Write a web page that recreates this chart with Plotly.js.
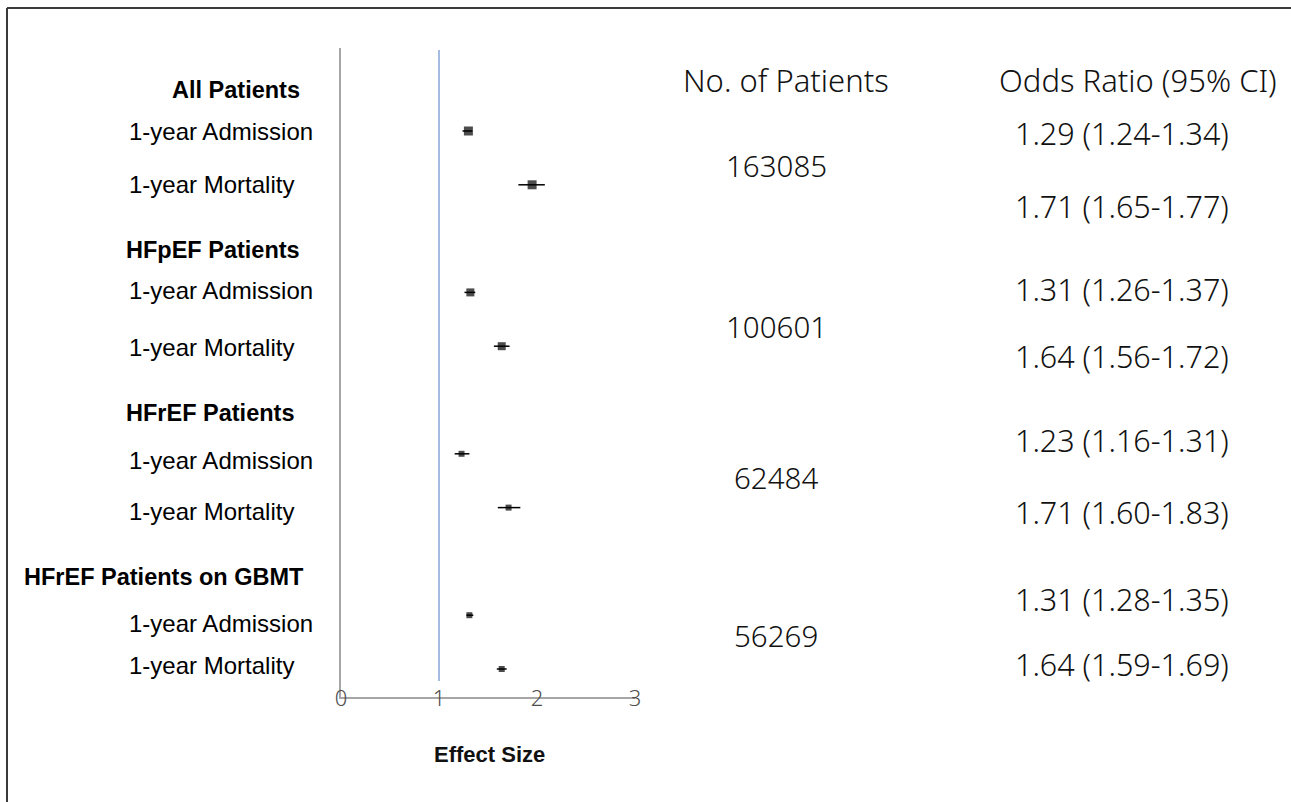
<!DOCTYPE html>
<html>
<head>
<meta charset="utf-8">
<script src="https://cdn.plot.ly/plotly-3.0.1.min.js"></script>
<style>html,body{margin:0;padding:0;background:#fff;}#chart{width:1291px;height:802px;}</style>
</head>
<body>
<div id="chart"></div>
<script>
// ---------------- data ----------------
const groups = ['All Patients', 'HFpEF Patients', 'HFrEF Patients', 'HFrEF Patients on GBMT'];
const outcomes = ['1-year Admission', '1-year Mortality'];
const nPatients = [163085, 100601, 62484, 56269];
// odds ratios as printed in the table column
const orEst  = [1.29, 1.71, 1.31, 1.64, 1.23, 1.71, 1.31, 1.64];
const orLow  = [1.24, 1.65, 1.26, 1.56, 1.16, 1.60, 1.28, 1.59];
const orHigh = [1.34, 1.77, 1.37, 1.72, 1.31, 1.83, 1.35, 1.69];
// marker positions as drawn in the forest plot
const plotEst  = [1.30, 1.95, 1.32, 1.64, 1.23, 1.71, 1.31, 1.64];
const plotLow  = [1.24, 1.81, 1.26, 1.56, 1.16, 1.60, 1.28, 1.59];
const plotHigh = [1.34, 2.08, 1.37, 1.72, 1.31, 1.83, 1.35, 1.69];
const xTicks = [0, 1, 2, 3];
const colHeaders = ['No. of Patients', 'Odds Ratio (95% CI)'];
const xTitle = 'Effect Size';

// ---------------- layout helpers ----------------
const W = 1291, H = 802;
const PL = 341, PR = 635, PT = 48, PB = 697;
const px = p => (p - PL) / (PR - PL);
const py = p => (PB - p) / (PB - PT);

// row index on the y axis: each group has a header row then its outcomes
const rowY = [];
groups.forEach((g, gi) => outcomes.forEach((o, oi) => rowY.push(gi * 3 + oi)));
const yTop = (PT - 131) / 53.8, yBot = (PB - 131) / 53.8;

const markerSizes = [9, 9, 8, 8, 6, 6, 6, 6];

const trace = {
  type: 'scatter',
  mode: 'markers',
  x: plotEst,
  y: rowY,
  marker: {symbol: 'square', color: '#000', size: markerSizes, line: {width: 0}},
  error_x: {
    type: 'data', symmetric: false,
    array: plotEst.map((v, i) => plotHigh[i] - v),
    arrayminus: plotEst.map((v, i) => v - plotLow[i]),
    color: '#000', thickness: 1.5, width: 0
  },
  hoverinfo: 'x',
  showlegend: false,
  cliponaxis: false
};

const labelFont = 'Liberation Sans, Arial, sans-serif';
const numFont = '"Noto Sans", "Noto Sans CJK JP", sans-serif';

const annotations = [];
// group headers (right edge px, centre y px)
const headerPos = [[302, 90], [302, 250], [296, 413], [306, 577]];
groups.forEach((g, gi) => annotations.push({
  xref: 'paper', yref: 'paper', x: px(headerPos[gi][0]), y: py(headerPos[gi][1]),
  xanchor: 'right', yanchor: 'middle', showarrow: false, text: '<b>' + g + '</b>',
  font: {family: labelFont, size: 23.5, color: '#000'}
}));
// outcome labels
const outcomeYPx = [131, 185, 290, 347, 460, 512, 623, 665];
rowY.forEach((r, i) => annotations.push({
  xref: 'paper', yref: 'paper', x: px(127), y: py(outcomeYPx[i]),
  xanchor: 'left', yanchor: 'middle', showarrow: false,
  text: outcomes[i % outcomes.length],
  font: {family: labelFont, size: 24, color: '#000'}
}));
const headFont = {family: numFont, size: 31, color: '#111', weight: 300};
const countFont = {family: numFont, size: 29.5, color: '#111', weight: 300};
const orFont = {family: numFont, size: 30.5, color: '#111', weight: 300};
// column headers
annotations.push({xref: 'paper', yref: 'paper', x: px(786), y: py(80), xanchor: 'center', yanchor: 'middle',
  showarrow: false, text: colHeaders[0], font: headFont});
annotations.push({xref: 'paper', yref: 'paper', x: px(1138), y: py(80), xanchor: 'center', yanchor: 'middle',
  showarrow: false, text: colHeaders[1], font: headFont});
// patient counts
const nYPx = [166, 326, 477, 635];
nPatients.forEach((n, gi) => annotations.push({
  xref: 'paper', yref: 'paper', x: px(776), y: py(nYPx[gi]), xanchor: 'center', yanchor: 'middle',
  showarrow: false, text: String(n), font: countFont
}));
// odds ratio text
const orYPx = [133, 206, 289, 356, 440, 512, 599, 664];
orEst.forEach((v, i) => annotations.push({
  xref: 'paper', yref: 'paper', x: px(1122), y: py(orYPx[i]), xanchor: 'center', yanchor: 'middle',
  showarrow: false,
  text: v.toFixed(2) + ' (' + orLow[i].toFixed(2) + '-' + orHigh[i].toFixed(2) + ')',
  font: orFont
}));
// x axis title
annotations.push({xref: 'paper', yref: 'paper', x: px(489), y: py(755), xanchor: 'center', yanchor: 'middle',
  showarrow: false, text: '<b>' + xTitle + '</b>', font: {family: labelFont, size: 22, color: '#111'}});

const shapes = [
  // reference line at OR = 1
  {type: 'line', xref: 'x', yref: 'paper', x0: 1, x1: 1, y0: py(681), y1: py(50),
   line: {color: '#8eaadb', width: 1.6}},
  // outer frame (top & left visible)
  {type: 'line', xref: 'paper', yref: 'paper', x0: px(7), x1: px(1292), y0: py(8), y1: py(8),
   line: {color: '#3a3a3a', width: 2}},
  {type: 'line', xref: 'paper', yref: 'paper', x0: px(7), x1: px(7), y0: py(8), y1: py(803),
   line: {color: '#3a3a3a', width: 2}}
];

const layout = {
  width: W, height: H,
  margin: {l: PL, r: W - PR, t: PT, b: H - PB, pad: 0},
  paper_bgcolor: '#fff', plot_bgcolor: '#fff',
  showlegend: false,
  xaxis: {
    range: [0, 3], tickvals: xTicks, ticktext: xTicks.map(String),
    showgrid: false, zeroline: false, showline: true, linecolor: '#a6a6a6', linewidth: 2,
    ticks: '', ticklabelstandoff: -19,
    tickfont: {family: numFont, size: 22, color: '#4d4d4d', weight: 300},
    fixedrange: true, automargin: false
  },
  yaxis: {
    range: [yBot, yTop], showgrid: false, zeroline: false, showline: true,
    linecolor: '#a6a6a6', linewidth: 2, showticklabels: false, ticks: '',
    fixedrange: true, automargin: false
  },
  annotations: annotations,
  shapes: shapes
};

Plotly.newPlot('chart', [trace], layout, {displayModeBar: false, staticPlot: true});
</script>
</body>
</html>
